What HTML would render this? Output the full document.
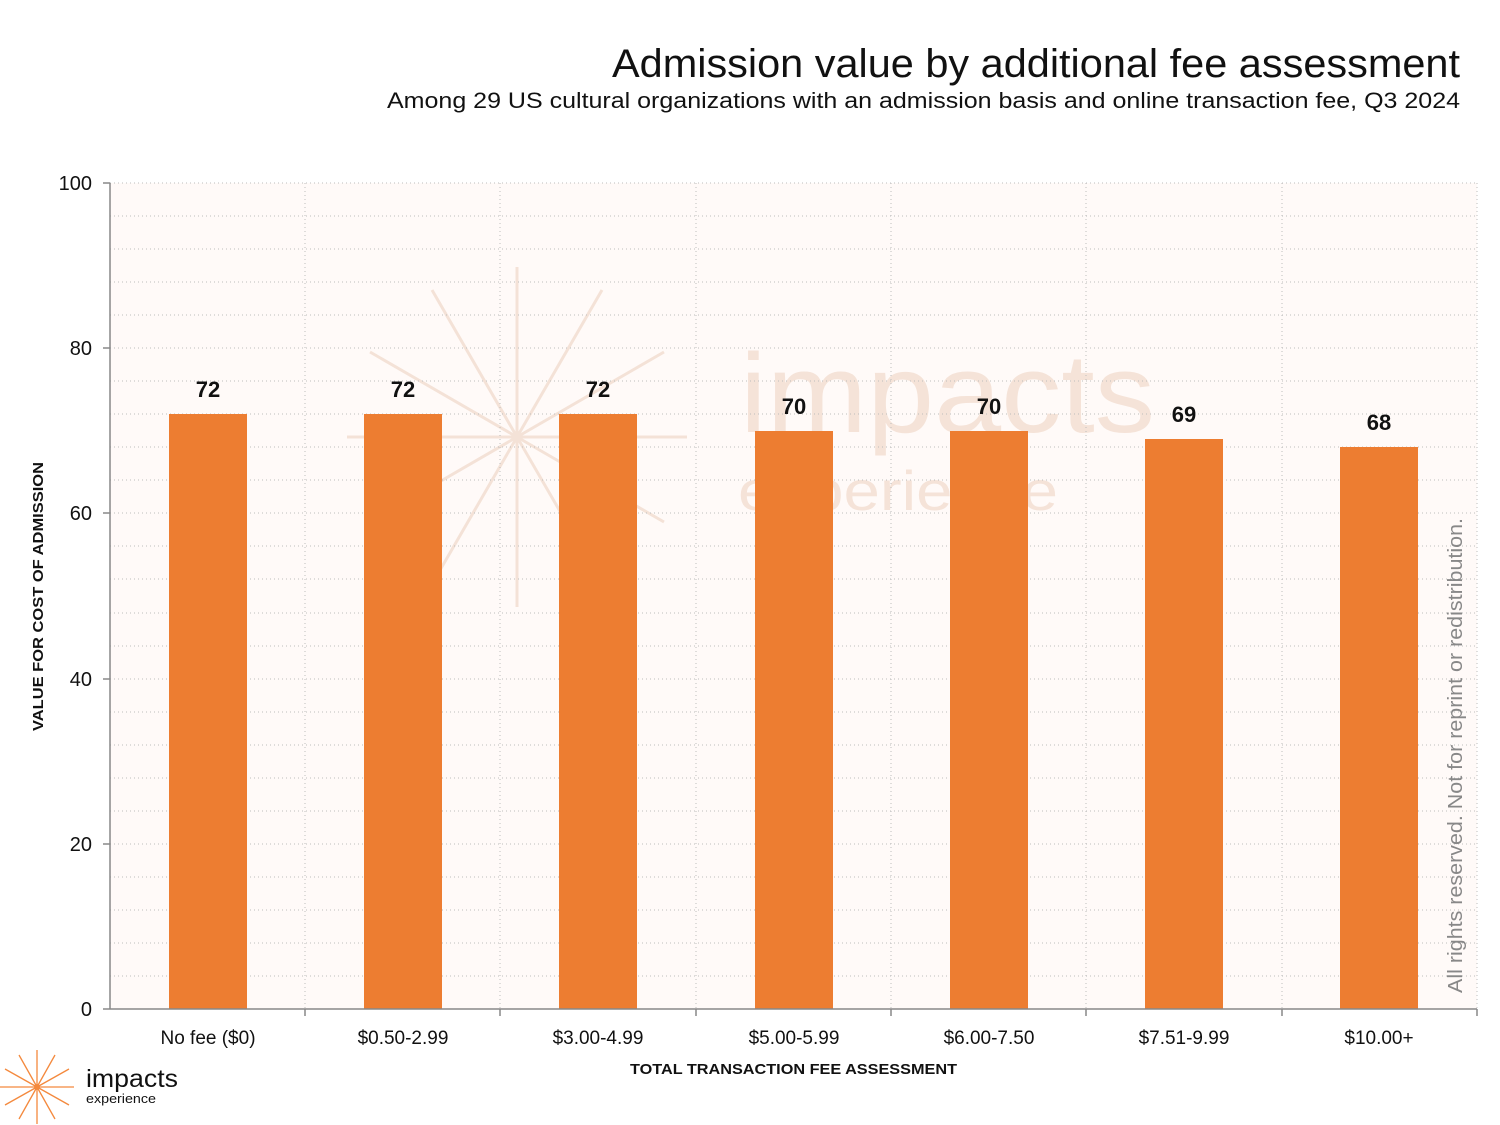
<!DOCTYPE html>
<html><head><meta charset="utf-8"><style>
body{margin:0;background:#fff;}
svg{display:block;font-family:"Liberation Sans",sans-serif;}
</style></head><body>
<svg width="1500" height="1125" viewBox="0 0 1500 1125">
<rect x="110" y="183" width="1367" height="826" fill="#fffaf8"/>
<g stroke="#f3e0d4" stroke-width="3" opacity="0.9">
<line x1="347" y1="437" x2="687" y2="437"/><line x1="517" y1="267" x2="517" y2="607"/>
<line x1="370" y1="352" x2="664" y2="522"/><line x1="370" y1="522" x2="664" y2="352"/>
<line x1="432" y1="290" x2="602" y2="584"/><line x1="432" y1="584" x2="602" y2="290"/>
</g>
<text x="740" y="432" font-size="112" fill="#f5e3d8" textLength="415" lengthAdjust="spacingAndGlyphs">impacts</text>
<text x="738" y="510" font-size="56" fill="#f5e3d8" textLength="320" lengthAdjust="spacingAndGlyphs">experience</text>
<g stroke="#bdbdbd" stroke-width="1" stroke-dasharray="1,3">
<line x1="110" x2="1477" y1="183" y2="183"/><line x1="110" x2="1477" y1="216" y2="216"/><line x1="110" x2="1477" y1="249" y2="249"/><line x1="110" x2="1477" y1="282" y2="282"/><line x1="110" x2="1477" y1="315" y2="315"/><line x1="110" x2="1477" y1="348" y2="348"/><line x1="110" x2="1477" y1="381" y2="381"/><line x1="110" x2="1477" y1="414" y2="414"/><line x1="110" x2="1477" y1="447" y2="447"/><line x1="110" x2="1477" y1="480" y2="480"/><line x1="110" x2="1477" y1="513" y2="513"/><line x1="110" x2="1477" y1="546" y2="546"/><line x1="110" x2="1477" y1="579" y2="579"/><line x1="110" x2="1477" y1="613" y2="613"/><line x1="110" x2="1477" y1="646" y2="646"/><line x1="110" x2="1477" y1="679" y2="679"/><line x1="110" x2="1477" y1="712" y2="712"/><line x1="110" x2="1477" y1="745" y2="745"/><line x1="110" x2="1477" y1="778" y2="778"/><line x1="110" x2="1477" y1="811" y2="811"/><line x1="110" x2="1477" y1="844" y2="844"/><line x1="110" x2="1477" y1="877" y2="877"/><line x1="110" x2="1477" y1="910" y2="910"/><line x1="110" x2="1477" y1="943" y2="943"/><line x1="110" x2="1477" y1="976" y2="976"/>
<line x1="305" x2="305" y1="183" y2="1009"/><line x1="500" x2="500" y1="183" y2="1009"/><line x1="696" x2="696" y1="183" y2="1009"/><line x1="891" x2="891" y1="183" y2="1009"/><line x1="1086" x2="1086" y1="183" y2="1009"/><line x1="1282" x2="1282" y1="183" y2="1009"/><line x1="1477" x2="1477" y1="183" y2="1009"/>
</g>
<g fill="#ed7d31">
<rect x="169" y="414" width="78" height="595"/><rect x="364" y="414" width="78" height="595"/><rect x="559" y="414" width="78" height="595"/><rect x="755" y="431" width="78" height="578"/><rect x="950" y="431" width="78" height="578"/><rect x="1145" y="439" width="78" height="570"/><rect x="1340" y="447" width="78" height="562"/>
</g>
<g stroke="#888" stroke-width="1.5">
<line x1="110" y1="183" x2="110" y2="1009"/><line x1="103" y1="1009" x2="1477" y2="1009"/>
<line x1="103" y1="183" x2="110" y2="183"/><line x1="103" y1="348" x2="110" y2="348"/><line x1="103" y1="513" x2="110" y2="513"/><line x1="103" y1="679" x2="110" y2="679"/><line x1="103" y1="844" x2="110" y2="844"/>
<line x1="305" y1="1009" x2="305" y2="1016"/><line x1="500" y1="1009" x2="500" y2="1016"/><line x1="696" y1="1009" x2="696" y2="1016"/><line x1="891" y1="1009" x2="891" y2="1016"/><line x1="1086" y1="1009" x2="1086" y2="1016"/><line x1="1282" y1="1009" x2="1282" y2="1016"/><line x1="1477" y1="1009" x2="1477" y2="1016"/>
</g>
<g font-size="20" text-anchor="end" fill="#111">
<text x="92" y="190">100</text><text x="92" y="355">80</text><text x="92" y="520">60</text><text x="92" y="686">40</text><text x="92" y="851">20</text><text x="92" y="1016">0</text>
</g>
<g font-size="19" text-anchor="middle" fill="#111">
<text x="208" y="1044">No fee ($0)</text><text x="403" y="1044">$0.50-2.99</text><text x="598" y="1044">$3.00-4.99</text><text x="794" y="1044">$5.00-5.99</text><text x="989" y="1044">$6.00-7.50</text><text x="1184" y="1044">$7.51-9.99</text><text x="1379" y="1044">$10.00+</text>
</g>
<g font-size="22" font-weight="bold" text-anchor="middle" fill="#111">
<text x="208" y="397">72</text><text x="403" y="397">72</text><text x="598" y="397">72</text><text x="794" y="414">70</text><text x="989" y="414">70</text><text x="1184" y="422">69</text><text x="1379" y="430">68</text>
</g>
<text x="630" y="1074" font-size="15" font-weight="bold" fill="#111" textLength="327" lengthAdjust="spacingAndGlyphs">TOTAL TRANSACTION FEE ASSESSMENT</text>
<text transform="translate(43,731) rotate(-90)" font-size="15" font-weight="bold" fill="#111" textLength="269" lengthAdjust="spacingAndGlyphs">VALUE FOR COST OF ADMISSION</text>
<text transform="translate(1462,993) rotate(-90)" font-size="20" fill="#888" textLength="475" lengthAdjust="spacingAndGlyphs">All rights reserved. Not for reprint or redistribution.</text>
<text x="612" y="77" font-size="40" fill="#111" textLength="848" lengthAdjust="spacingAndGlyphs">Admission value by additional fee assessment</text>
<text x="387" y="108" font-size="22" fill="#111" textLength="1073" lengthAdjust="spacingAndGlyphs">Among 29 US cultural organizations with an admission basis and online transaction fee, Q3 2024</text>
<g stroke="#f4893d" stroke-width="1.3">
<line x1="0" y1="1087" x2="74" y2="1087"/><line x1="37" y1="1050" x2="37" y2="1124"/>
<line x1="5" y1="1069" x2="69" y2="1105"/><line x1="5" y1="1105" x2="69" y2="1069"/>
<line x1="19" y1="1055" x2="55" y2="1119"/><line x1="19" y1="1119" x2="55" y2="1055"/>
</g>
<circle cx="37" cy="1087" r="3" fill="#f4893d"/>
<text x="86" y="1087" font-size="25" fill="#111" textLength="92" lengthAdjust="spacingAndGlyphs">impacts</text>
<text x="86" y="1103" font-size="13" fill="#111" textLength="70" lengthAdjust="spacingAndGlyphs">experience</text>
</svg>
</body></html>
